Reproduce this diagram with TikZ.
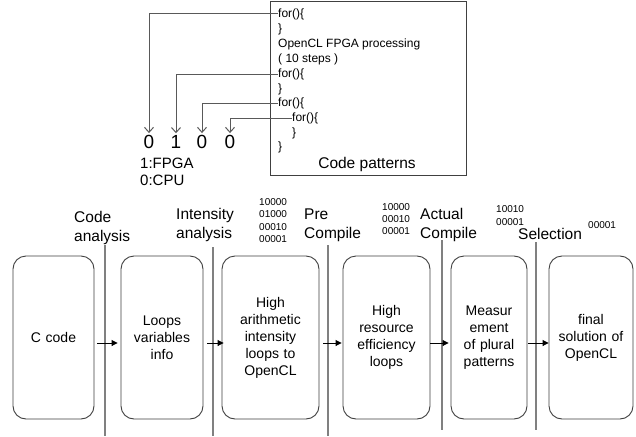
\documentclass[tikz,border=0pt]{standalone}
\usepackage{fontspec}
\setmainfont{Liberation Sans}
\usetikzlibrary{arrows.meta}
\tikzset{
  codeln/.style={anchor=west, inner sep=0pt, font=\fontsize{12}{14}\selectfont},
  digit/.style={inner sep=0pt, font=\fontsize{19}{21}\selectfont},
  legend/.style={anchor=west, inner sep=0pt, font=\fontsize{15}{17}\selectfont},
  stagelbl/.style={anchor=west, inner sep=0pt, align=left, font=\fontsize{15.5}{19}\selectfont},
  bits/.style={anchor=west, inner sep=0pt, align=left, font=\fontsize{10}{12.4}\selectfont},
  stagebox/.style={draw=black!75, line width=0.9pt, rounded corners=13pt, minimum height=163pt, inner sep=2pt, align=center, font=\fontsize{14}{17}\selectfont},
  sep/.style={draw=black!50, line width=1.4pt},
  selarrow/.style={draw=black!65, line width=1pt, -{Straight Barb[length=5pt,width=9pt]}},
  flow/.style={draw=black, line width=0.9pt, -{Triangle[length=6pt,width=6pt]}}
}
\begin{document}
\begin{tikzpicture}[x=1pt,y=-1pt]
\useasboundingbox (0,0) rectangle (636,436);
\fill[white] (0,0) rectangle (636,436);

% code patterns box
\node[draw=black!75, line width=1pt, minimum width=196pt, minimum height=173pt, inner sep=0pt] (cpbox) at (368,88.5) {};
\node[codeln] (f1) at (278,14) {for()\{};
\node[codeln] (c1) at (278,29) {\}};
\node[codeln] (t1) at (278,44) {OpenCL FPGA processing};
\node[codeln] (t2) at (278,59) {( 10 steps )};
\node[codeln] (f2) at (278,74) {for()\{};
\node[codeln] (c2) at (278,89) {\}};
\node[codeln] (f3) at (278,103) {for()\{};
\node[codeln] (f4) at (292,118) {for()\{};
\node[codeln] (c4) at (292,133) {\}};
\node[codeln] (c3) at (278,147) {\}};
\node[inner sep=0pt, font=\fontsize{15.5}{17}\selectfont] (cpl) at (367,164) {Code patterns};

% digits
\node[digit] (d1) at (149,142) {0};
\node[digit] (d2) at (176,142) {1};
\node[digit] (d3) at (202,142) {0};
\node[digit] (d4) at (230,142) {0};
\node[legend] (lf) at (140,163) {1:FPGA};
\node[legend] (lc) at (140,180) {0:CPU};

\draw[selarrow] (f1.west) -| ([yshift=2pt]d1.north);
\draw[selarrow] (f2.west) -| ([yshift=2pt]d2.north);
\draw[selarrow] (f3.west) -| ([yshift=2pt]d3.north);
\draw[selarrow] (f4.west) -| ([yshift=2pt]d4.north);

% stage separators
\draw[sep] (105,245) -- (105,436);
\draw[sep] (213,247) -- (213,436);
\draw[sep] (328,245) -- (328,436);
\draw[sep] (442,240) -- (442,430);
\draw[sep] (536,242) -- (536,430);

% stage labels
\node[stagelbl] (l1) at (74,227.5) {Code\\analysis};
\node[stagelbl] (l2) at (176,224.5) {Intensity\\analysis};
\node[stagelbl] (l3) at (304,225.5) {Pre\\Compile};
\node[stagelbl] (l4) at (420,225) {Actual\\Compile};
\node[stagelbl] (l5) at (518,234) {Selection};

% bit patterns
\node[bits] (g1) at (259,220.5) {10000\\01000\\00010\\00001};
\node[bits] (g2) at (382,219) {10000\\00010\\00001};
\node[bits] (g3) at (496,215.5) {10010\\00001};
\node[bits] (g4) at (588,225) {00001};

% boxes
\node[stagebox, minimum width=81pt, text width=75pt] (b1) at (53.5,337.5) {C code};
\node[stagebox, minimum width=82pt, text width=76pt] (b2) at (162,337.5) {Loops\\variables\\info};
\node[stagebox, minimum width=97pt, text width=91pt] (b3) at (270.5,337.5) {High\\arithmetic\\intensity\\loops to\\OpenCL};
\node[stagebox, minimum width=87pt, text width=81pt] (b4) at (386.5,337.5) {High\\resource\\efficiency\\loops};
\node[stagebox, minimum width=76pt, text width=70pt] (b5) at (489,337.5) {Measur\\ement\\of plural\\patterns};
\node[stagebox, minimum width=84pt, text width=78pt] (b6) at (591,337.5) {final\\solution of\\OpenCL};

% flow arrows
\draw[flow, shorten <=3pt, shorten >=3pt] ([yshift=-5.5pt]b1.east) -- ([yshift=-5.5pt]b2.west);
\draw[flow, shorten <=4pt, shorten >=-2pt] ([yshift=-5.5pt]b2.east) -- ([yshift=-5.5pt]b3.west);
\draw[flow, shorten <=4pt, shorten >=1pt] ([yshift=-5.5pt]b3.east) -- ([yshift=-5.5pt]b4.west);
\draw[flow, shorten <=0pt, shorten >=2pt] ([yshift=-5.5pt]b4.east) -- ([yshift=-5.5pt]b5.west);
\draw[flow, shorten <=1pt, shorten >=0pt] ([yshift=-5.5pt]b5.east) -- ([yshift=-5.5pt]b6.west);
\end{tikzpicture}
\end{document}
